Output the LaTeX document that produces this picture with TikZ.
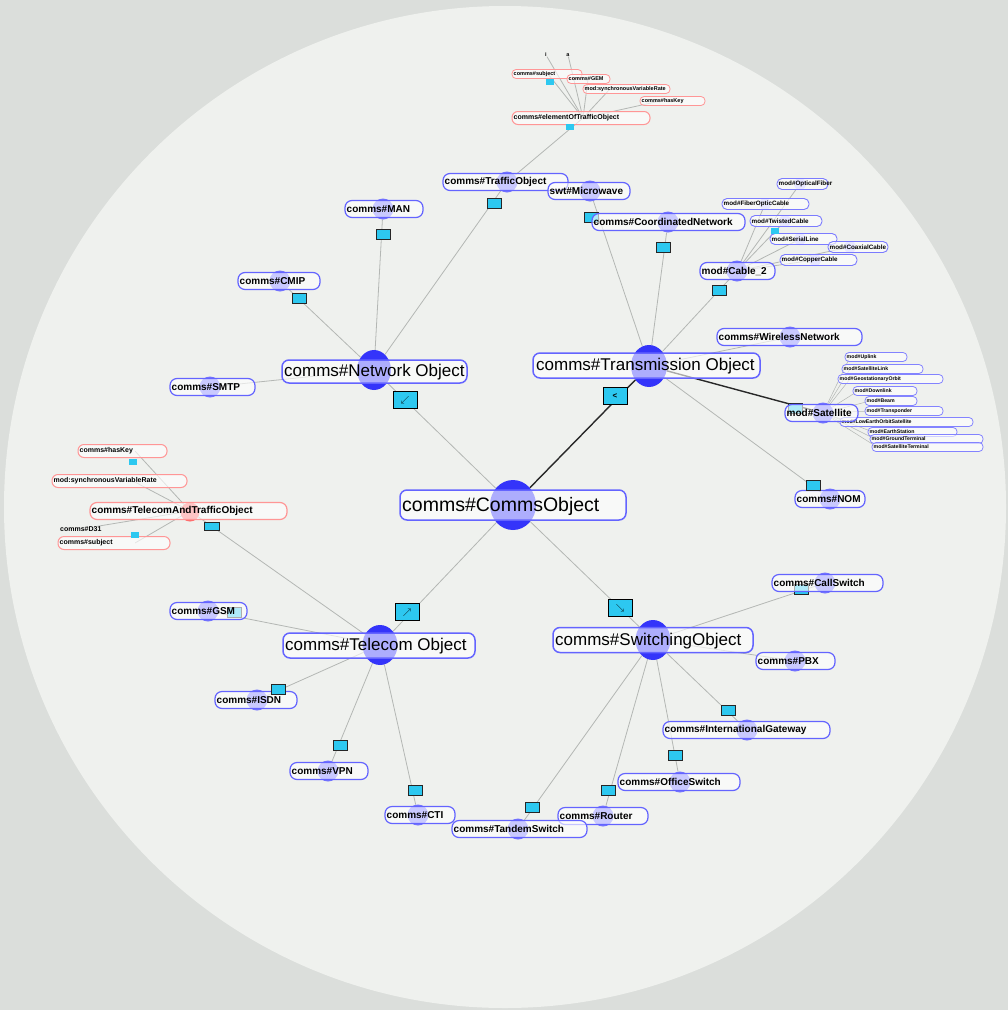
\documentclass[tikz,border=0pt]{standalone}
\usepackage{fontspec}
\setmainfont{Liberation Sans}
\usetikzlibrary{shapes.geometric}
\pgfdeclarelayer{bg}
\pgfdeclarelayer{edges}
\pgfsetlayers{bg,edges,main}

\definecolor{pageout}{RGB}{219,222,219}
\definecolor{pagein}{RGB}{239,241,238}
\definecolor{hubblue}{RGB}{52,52,250}
\definecolor{boxline}{RGB}{100,100,255}
\definecolor{blobcol}{RGB}{115,115,255}
\definecolor{redline}{RGB}{255,150,150}
\definecolor{redblob}{RGB}{255,105,105}
\definecolor{tagcyan}{RGB}{45,200,240}
\definecolor{edgegray}{RGB}{180,183,180}
\definecolor{edgedark}{RGB}{40,40,40}

\tikzset{
  hub/.style={ellipse, fill=hubblue, inner sep=0pt},
  bigbox/.style={rounded corners=7pt, draw=boxline, line width=1.5pt, fill=white, fill opacity=0.6, inner sep=0pt},
  bigtext/.style={inner sep=0pt, anchor=west, font=\fontsize{17}{17}\selectfont},
  boxbase/.style={fill=white, fill opacity=0.62, inner sep=0pt},
  box-s/.style={boxbase, rounded corners=7pt, draw=boxline, line width=1.2pt, minimum height=17pt},
  box-rs/.style={boxbase, rounded corners=7pt, draw=redline, line width=1.2pt, minimum height=17pt},
  box-r/.style={boxbase, rounded corners=6pt, draw=redline, line width=1pt, minimum height=13pt},
  box-rt/.style={boxbase, rounded corners=4pt, draw=redline, line width=0.8pt, minimum height=9pt},
  box-t/.style={boxbase, rounded corners=5pt, draw=boxline!85, line width=0.9pt, minimum height=11pt},
  box-u/.style={boxbase, rounded corners=4pt, draw=boxline!80, line width=0.8pt, minimum height=9pt},
  txt-s/.style={inner sep=0pt, font=\fontsize{10}{11}\selectfont\bfseries},
  txt-rs/.style={txt-s},
  txt-r/.style={inner sep=0pt, font=\fontsize{7}{8}\selectfont\bfseries},
  txt-rt/.style={inner sep=0pt, font=\fontsize{5.5}{6}\selectfont\bfseries},
  txt-t/.style={inner sep=0pt, font=\fontsize{6.3}{7}\selectfont\bfseries},
  txt-u/.style={inner sep=0pt, font=\fontsize{5.2}{6}\selectfont\bfseries},
  blob-s/.style={circle, fill=blobcol, minimum size=21pt, inner sep=0pt},
  blob-none/.style={circle, minimum size=0pt, inner sep=0pt},
  blob-rs/.style={blob-none},
  blob-r/.style={blob-none},
  blob-rt/.style={blob-none},
  blob-u/.style={blob-none},
  blob-t/.style={circle, fill=blobcol!45, minimum size=12pt, inner sep=0pt},
  tagbig/.style={fill=tagcyan, draw=black, line width=1pt, minimum width=24pt, minimum height=17pt, inner sep=0pt, font=\fontsize{8}{8}\selectfont},
  tag/.style={fill=tagcyan, draw=black!85, line width=0.8pt, minimum width=14pt, minimum height=10pt, inner sep=0pt},
  tagtiny/.style={fill=tagcyan, draw=none, minimum width=8pt, minimum height=6pt, inner sep=0pt},
  edge/.style={draw=edgegray, line width=0.8pt},
  edgedk/.style={draw=edgedark, line width=1.4pt},
}

% kind, name, left x, right x, centre y, hub x, label
\newcommand\gnode[7]{%
  \node[blob-#1] (#2-h) at (#6,#5) {};
  \node[box-#1, minimum width={(#4-#3)*1pt}] (#2) at ({(#3+#4)/2},#5) {};
  \node[txt-#1, anchor=west] (#2-t) at (#3+1.5,#5) {#7};
}

\begin{document}
\begin{tikzpicture}[x=1pt,y=-1pt]
\path[use as bounding box] (0,0) rectangle (1008,1010);
\begin{pgfonlayer}{bg}
  \fill[pageout] (0,0) rectangle (1008,1010);
  \fill[pagein] (505,507) circle[radius=501pt];
\end{pgfonlayer}

% ---- central object
\node[hub, minimum width=46pt, minimum height=50pt] (comms-h) at (513,505) {};
\node[bigbox, minimum width=226pt, minimum height=30pt] (comms) at (513,505) {};
\node[bigtext, font=\fontsize{19.5}{20}\selectfont] (comms-t) at (402,506) {comms\#CommsObject};

% ---- second ring
\node[hub, minimum width=34pt, minimum height=40pt] (net-h) at (374,370) {};
\node[bigbox, minimum width=185pt, minimum height=23pt] (net) at (374.5,371.5) {};
\node[bigtext] (net-t) at (284,372) {comms\#Network Object};

\node[hub, minimum width=36pt, minimum height=42pt] (trans-h) at (649,366) {};
\node[bigbox, minimum width=227pt, minimum height=25pt] (trans) at (646.5,365.5) {};
\node[bigtext] (trans-t) at (536,366) {comms\#Transmission Object};

\node[hub, minimum width=35pt, minimum height=40pt] (tel-h) at (380,645) {};
\node[bigbox, minimum width=192pt, minimum height=25pt] (tel) at (379,645.5) {};
\node[bigtext] (tel-t) at (285,646) {comms\#Telecom Object};

\node[hub, minimum width=35pt, minimum height=40pt] (sw-h) at (653,640) {};
\node[bigbox, minimum width=200pt, minimum height=25pt] (sw) at (653,640) {};
\node[bigtext] (sw-t) at (555,641) {comms\#SwitchingObject};

% tags lying under their boxes
\node[tag] (g-micro) at (591,217) {};
\node[tag] (g-gsm) at (234,612) {};
\node[tag] (g-callsw) at (801,589) {};
\node[tag] (g-sat) at (795,408) {};

% ---- network objects
\gnode{s}{smtp}{170}{255}{387}{210}{comms\#SMTP}
\gnode{s}{cmip}{238}{320}{281}{280}{comms\#CMIP}
\gnode{s}{man}{345}{423}{209}{383}{comms\#MAN}
\gnode{s}{traffic}{443}{568}{182}{507}{comms\#TrafficObject}

% ---- traffic object details
\gnode{r}{elem}{512}{650}{118}{583}{comms\#elementOfTrafficObject}
\gnode{rt}{topA}{512}{582}{74}{548}{comms\#subject}
\gnode{rt}{topB}{567}{610}{79}{588}{comms\#GEM}
\gnode{rt}{topC}{583}{670}{89}{610}{mod:synchronousVariableRate}
\gnode{rt}{topD}{640}{705}{101}{660}{comms\#hasKey}
\node[txt-rt] (q1) at (546,55) {i};
\node[txt-rt] (q2) at (568,55) {a};

% ---- transmission objects
\gnode{s}{micro}{548}{630}{191}{590}{swt\#Microwave}
\gnode{s}{coord}{592}{745}{222}{668}{comms\#CoordinatedNetwork}
\gnode{t}{optical}{777}{828}{184}{800}{mod\#OpticalFiber}
\gnode{t}{fiber}{722}{809}{204}{765}{mod\#FiberOpticCable}
\gnode{t}{twisted}{750}{822}{221}{785}{mod\#TwistedCable}
\gnode{t}{serial}{770}{837}{239}{800}{mod\#SerialLine}
\gnode{t}{coax}{828}{888}{247}{850}{mod\#CoaxialCable}
\gnode{t}{copper}{780}{857}{260}{815}{mod\#CopperCable}
\gnode{s}{cable}{700}{775}{271}{737}{mod\#Cable\_2}
\gnode{s}{wireless}{717}{862}{337}{790}{comms\#WirelessNetwork}
\gnode{u}{s1}{845}{907}{357}{850}{mod\#Uplink}
\gnode{u}{s2}{842}{923}{369}{850}{mod\#SatelliteLink}
\gnode{u}{s3}{838}{943}{379}{850}{mod\#GeostationaryOrbit}
\gnode{u}{s4}{853}{917}{391}{858}{mod\#Downlink}
\gnode{u}{s5}{865}{917}{401}{870}{mod\#Beam}
\gnode{u}{s6}{865}{943}{411}{870}{mod\#Transponder}
\gnode{u}{s7}{840}{973}{422}{850}{mod\#LowEarthOrbitSatellite}
\gnode{u}{s8}{868}{957}{432}{873}{mod\#EarthStation}
\gnode{u}{s9}{870}{983}{439}{875}{mod\#GroundTerminal}
\gnode{u}{s10}{872}{983}{447}{877}{mod\#SatelliteTerminal}
\gnode{s}{sat}{785}{858}{413}{823}{mod\#Satellite}
\gnode{s}{nom}{795}{865}{499}{830}{comms\#NOM}

% ---- telecom objects
\node[circle, fill=redblob, minimum size=19pt, inner sep=0pt] (red-dot) at (190,512) {};
\gnode{rs}{red}{90}{287}{511}{190}{comms\#TelecomAndTrafficObject}
\gnode{r}{redA}{78}{167}{451}{135}{comms\#hasKey}
\gnode{r}{redB}{52}{187}{481}{133}{mod:synchronousVariableRate}
\node[txt-r, anchor=west] (redC) at (60,529) {comms\#D31};
\gnode{r}{redD}{58}{170}{543}{135}{comms\#subject}
\gnode{s}{gsm}{170}{247}{611}{208}{comms\#GSM}
\gnode{s}{isdn}{215}{297}{700}{257}{comms\#ISDN}
\gnode{s}{vpn}{290}{368}{771}{328}{comms\#VPN}
\gnode{s}{cti}{385}{455}{815}{418}{comms\#CTI}

% ---- switching objects
\gnode{s}{callsw}{772}{883}{583}{825}{comms\#CallSwitch}
\gnode{s}{pbx}{756}{835}{661}{795}{comms\#PBX}
\gnode{s}{intl}{663}{830}{730}{747}{comms\#InternationalGateway}
\gnode{s}{office}{618}{740}{782}{680}{comms\#OfficeSwitch}
\gnode{s}{router}{558}{648}{816}{603}{comms\#Router}
\gnode{s}{tandem}{452}{587}{829}{518}{comms\#TandemSwitch}

% ---- relation tags
\node[tagbig] (g-net) at (405,400) {$\swarrow$};
\node[tagbig] (g-trans) at (615,396) {\textbf{<}};
\node[tagbig] (g-tel) at (407,612) {$\nearrow$};
\node[tagbig] (g-sw) at (620,608) {$\searrow$};
\node[tag] (g-cmip) at (299,298) {};
\node[tag] (g-man) at (383,234) {};
\node[tag] (g-traffic) at (494,203) {};
\node[tag] (g-coord) at (663,247) {};
\node[tag] (g-cable) at (719,290) {};
\node[tag] (g-nom) at (813,485) {};
\node[tag] (g-isdn) at (278,689) {};
\node[tag] (g-vpn) at (340,745) {};
\node[tag] (g-cti) at (415,790) {};
\node[tag] (g-tandem) at (532,807) {};
\node[tag] (g-router) at (608,790) {};
\node[tag] (g-office) at (675,755) {};
\node[tag] (g-intl) at (728,710) {};
\node[tag, minimum width=15pt, minimum height=8pt] (g-red) at (212,526) {};
\node[tagtiny] (g-redA) at (133,462) {};
\node[tagtiny] (g-redD) at (135,535) {};
\node[tagtiny] (g-elem) at (570,127) {};
\node[tagtiny] (g-topA) at (550,82) {};
\node[tagtiny] (g-serial) at (775,231) {};

% ---- connectors
\begin{pgfonlayer}{edges}
  \draw[edge] (comms-h) -- (net-h);
  \draw[edgedk] (comms-h) -- (trans-h);
  \draw[edge] (comms-h) -- (tel-h);
  \draw[edge] (comms-h) -- (sw-h);
  \foreach \n in {smtp,cmip,man,traffic} \draw[edge] (net-h) -- (\n-h);
  \draw[edge] (traffic-h) -- (elem-h);
  \foreach \n in {topA,topB,topC,topD} \draw[edge] (elem-h) -- (\n-h);
  \draw[edge] (elem-h) -- (q1);
  \draw[edge] (elem-h) -- (q2);
  \foreach \n in {micro,coord,cable,wireless,nom} \draw[edge] (trans-h) -- (\n-h);
  \draw[edgedk] (trans-h) -- (sat-h);
  \foreach \n in {optical,fiber,twisted,serial,coax,copper} \draw[edge] (cable-h) -- (\n-h);
  \foreach \n in {s1,s2,s3,s4,s5,s6,s7,s8,s9,s10} \draw[edge, line width=0.5pt] (sat-h) -- (\n-h);
  \foreach \n in {red,gsm,isdn,vpn,cti} \draw[edge] (tel-h) -- (\n-h);
  \foreach \n in {redA,redB,redD} \draw[edge] (red-h) -- (\n-h);
  \draw[edge] (red-h) -- (redC);
  \foreach \n in {callsw,pbx,intl,office,router,tandem} \draw[edge] (sw-h) -- (\n-h);
\end{pgfonlayer}
\end{tikzpicture}
\end{document}
